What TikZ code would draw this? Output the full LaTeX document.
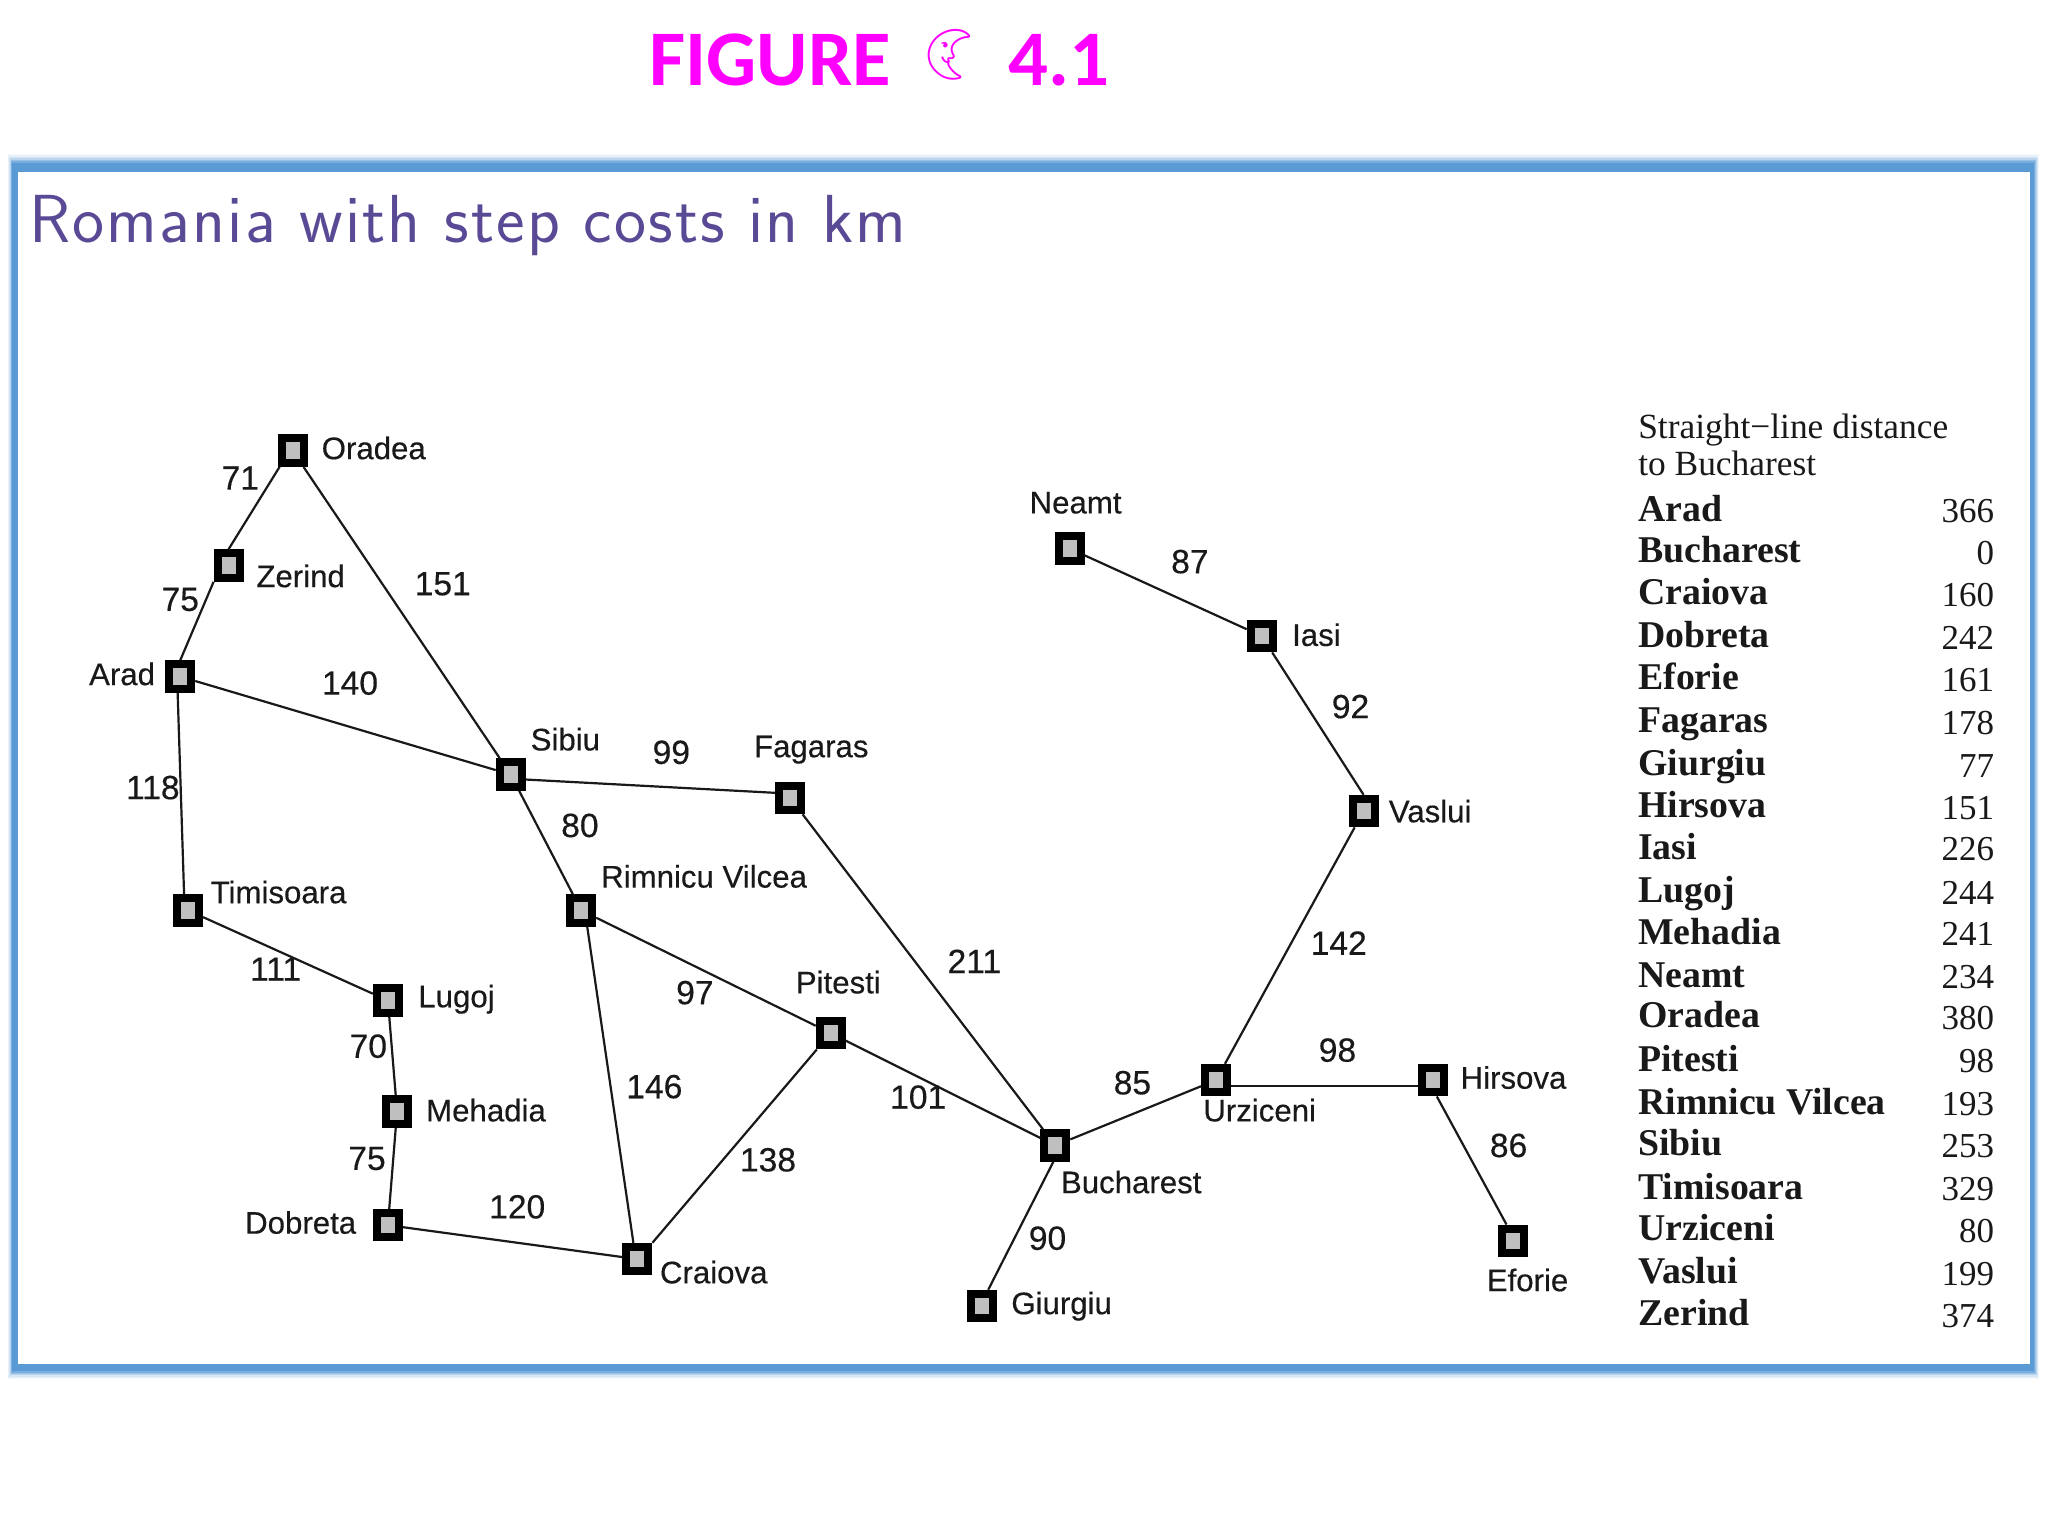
\documentclass[tikz,border=0pt]{standalone}
\usepackage{fontspec}
\setmainfont{Liberation Serif}
\newfontfamily\labelfont[FakeBold=0.35]{Liberation Sans}
\newfontfamily\headfont{Carlito}
\newfontfamily\moonfont{Noto Emoji}
\newfontfamily\titlefont[LetterSpace=3.3]{Latin Modern Sans}
\usepackage{xcolor}
\usetikzlibrary{positioning}
\definecolor{framecol}{HTML}{5B9BD5}
\definecolor{headcol}{HTML}{FF00FF}
\definecolor{titlecol}{HTML}{5A4A96}

\begin{document}
\begin{tikzpicture}[
  x=0.6531pt, y=-0.6531pt,
  city/.style={draw=black, line width=4pt, fill=black!25, minimum width=11pt, minimum height=12.3pt, inner sep=0pt},
  road/.style={line width=1.1pt, black!90},
  cname/.style={font=\labelfont\fontsize{15.6}{17}\selectfont, inner sep=0pt, text=black!90},
  cost/.style={font=\labelfont\fontsize{16.8}{18}\selectfont, inner sep=0pt, text=black!90},
  rowname/.style={font=\fontsize{18.9}{20}\selectfont\bfseries, anchor=base west, inner sep=0pt, text=black!90},
  rowval/.style={font=\fontsize{17.5}{20}\selectfont, anchor=base east, inner sep=0pt, text=black!90}]
\useasboundingbox (0,0) rectangle (1568,1176);
% frame with a soft edge
\foreach \g/\c in {12/6,11/14,10/26,9/42,8/62,7/82,6/100,0/100}
  \fill[framecol!\c] (13-\g*0.6,132-\g*1.2) rectangle (1554+\g*0.6,1044+\g);
\fill[white] (14,132) rectangle (1554,1044);
% heading
\node[font=\headfont\fontsize{39.4}{42}\selectfont\bfseries, text=headcol, inner sep=0pt, anchor=west] (fig) at (497,46) {FIGURE};
\node[font=\moonfont\fontsize{25}{27}\selectfont, text=headcol, inner sep=0pt, rotate=-45] (moon) at (730,41) {🌜};
\node[font=\headfont\fontsize{39.4}{42}\selectfont\bfseries, text=headcol, inner sep=0pt, anchor=west] (num) at (772,46) {4.1};
\node[font=\titlefont\fontsize{34}{36}\selectfont, text=titlecol, inner sep=0pt, anchor=base west] (title) at (22,186) {Romania with step costs in km};
% cities
\node[city] (oradea) at (224,345) {};
\node[city] (zerind) at (175,433) {};
\node[city] (arad) at (138,518) {};
\node[city] (timisoara) at (144,697) {};
\node[city] (lugoj) at (297,766) {};
\node[city] (mehadia) at (304,851) {};
\node[city] (dobreta) at (297,938) {};
\node[city] (craiova) at (488,964) {};
\node[city] (sibiu) at (391,593) {};
\node[city] (fagaras) at (605,611) {};
\node[city] (rimnicu) at (445,697) {};
\node[city] (pitesti) at (636,791) {};
\node[city] (bucharest) at (808,877) {};
\node[city] (giurgiu) at (752,1000) {};
\node[city] (urziceni) at (931,827) {};
\node[city] (hirsova) at (1097,827) {};
\node[city] (eforie) at (1158,950) {};
\node[city] (neamt) at (819,420) {};
\node[city] (iasi) at (966,487) {};
\node[city] (vaslui) at (1044,621) {};
% roads
\draw[road] ([xshift=1pt]oradea.south west) -- (zerind.north);
\draw[road] (zerind.south west) -- (arad.north);
\draw[road] (oradea) -- (sibiu);
\draw[road] (arad) -- (sibiu);
\draw[road] ([xshift=-1.3pt]arad.south) -- ([xshift=-2pt]timisoara.north);
\draw[road] (timisoara) -- (lugoj);
\draw[road] (lugoj) -- (mehadia);
\draw[road] (mehadia) -- (dobreta);
\draw[road] (dobreta) -- (craiova);
\draw[road] ([yshift=-2.5pt]sibiu.east) -- ([yshift=2.6pt]fagaras.west);
\draw[road] (sibiu) -- (rimnicu);
\draw[road] (rimnicu) -- (pitesti);
\draw[road] ([xshift=3pt]rimnicu.south) -- ([xshift=-2pt]craiova.north);
\draw[road] (pitesti) -- (craiova.north east);
\draw[road] (pitesti) -- (bucharest);
\draw[road] (fagaras) -- (bucharest);
\draw[road] (bucharest) -- (urziceni);
\draw[road] ([xshift=-1pt]bucharest.south) -- ([xshift=3pt]giurgiu.north);
\draw[road] ([yshift=-3pt]urziceni.east) -- ([yshift=-3pt]hirsova.west);
\draw[road] ([xshift=2pt]hirsova.south) -- ([xshift=-3pt]eforie.north);
\draw[road] (urziceni) -- (vaslui);
\draw[road] (vaslui.north) -- (iasi);
\draw[road] (iasi) -- (neamt);
% city names
\node[cname, anchor=west] (oradeaname) at (246,343) {Oradea};
\node[cname, anchor=west] (zerindname) at (196,441) {Zerind};
\node[cname, anchor=east] (aradname) at (119,516) {Arad};
\node[cname, anchor=west] (timisoaraname) at (161,683) {Timisoara};
\node[cname, anchor=west] (lugojname) at (320,765) {Lugoj};
\node[cname, anchor=west] (mehadianame) at (326,850) {Mehadia};
\node[cname, anchor=east] (dobretaname) at (273,936) {Dobreta};
\node[cname, anchor=west] (craiovaname) at (505,974) {Craiova};
\node[cname, anchor=west] (sibiuname) at (406,566) {Sibiu};
\node[cname, anchor=west] (fagarasname) at (577,574) {Fagaras};
\node[cname, anchor=west] (rimnicuname) at (460,671) {Rimnicu Vilcea};
\node[cname, anchor=west] (pitestiname) at (609,752) {Pitesti};
\node[cname, anchor=west] (bucharestname) at (812,905) {Bucharest};
\node[cname, anchor=west] (giurgiuname) at (774,1000) {Giurgiu};
\node[cname, anchor=west] (urziceniname) at (921,850) {Urziceni};
\node[cname, anchor=west] (hirsovaname) at (1118,825) {Hirsova};
\node[cname, anchor=west] (eforiename) at (1138,980) {Eforie};
\node[cname, anchor=west] (neamtname) at (788,385) {Neamt};
\node[cname, anchor=west] (iasiname) at (989,486) {Iasi};
\node[cname, anchor=west] (vasluiname) at (1063,621) {Vaslui};
% step costs
\node[cost] (c71) at (184,366) {71};
\node[cost] (c75a) at (138,459) {75};
\node[cost] (c151) at (339,447) {151};
\node[cost] (c140) at (268,523) {140};
\node[cost] (c118) at (117,603) {118};
\node[cost] (c111) at (211,742) {111};
\node[cost] (c70) at (282,801) {70};
\node[cost] (c75b) at (281,887) {75};
\node[cost] (c120) at (396,924) {120};
\node[cost] (c99) at (514,576) {99};
\node[cost] (c80) at (444,632) {80};
\node[cost] (c97) at (532,760) {97};
\node[cost] (c146) at (501,832) {146};
\node[cost] (c138) at (588,888) {138};
\node[cost] (c211) at (746,736) {211};
\node[cost] (c101) at (703,840) {101};
\node[cost] (c85) at (867,829) {85};
\node[cost] (c90) at (802,948) {90};
\node[cost] (c98) at (1024,804) {98};
\node[cost] (c86) at (1155,877) {86};
\node[cost] (c87) at (911,430) {87};
\node[cost] (c92) at (1034,541) {92};
\node[cost] (c142) at (1025,722) {142};
% distance table
\node[font=\fontsize{17.7}{18.4}\selectfont, align=left, anchor=north west, inner sep=0pt, text=black!90] (tablehead) at (1254,317) {Straight−line distance\\to Bucharest};
\foreach \nm/\dist/\yy in {Arad/366/389,Bucharest/0/421,Craiova/160/453,Dobreta/242/486,Eforie/161/518,Fagaras/178/551,Giurgiu/77/584,Hirsova/151/616,Iasi/226/648,Lugoj/244/681,Mehadia/241/713,Neamt/234/746,Oradea/380/777,Pitesti/98/810,Rimnicu Vilcea/193/843,Sibiu/253/875,Timisoara/329/908,Urziceni/80/940,Vaslui/199/973,Zerind/374/1005} {
  \node[rowname] (row\yy) at (1254,\yy+10) {\nm};
  \node[rowval] (dist\yy) at (1527,\yy+11.2) {\dist};
}
\end{tikzpicture}
\end{document}
